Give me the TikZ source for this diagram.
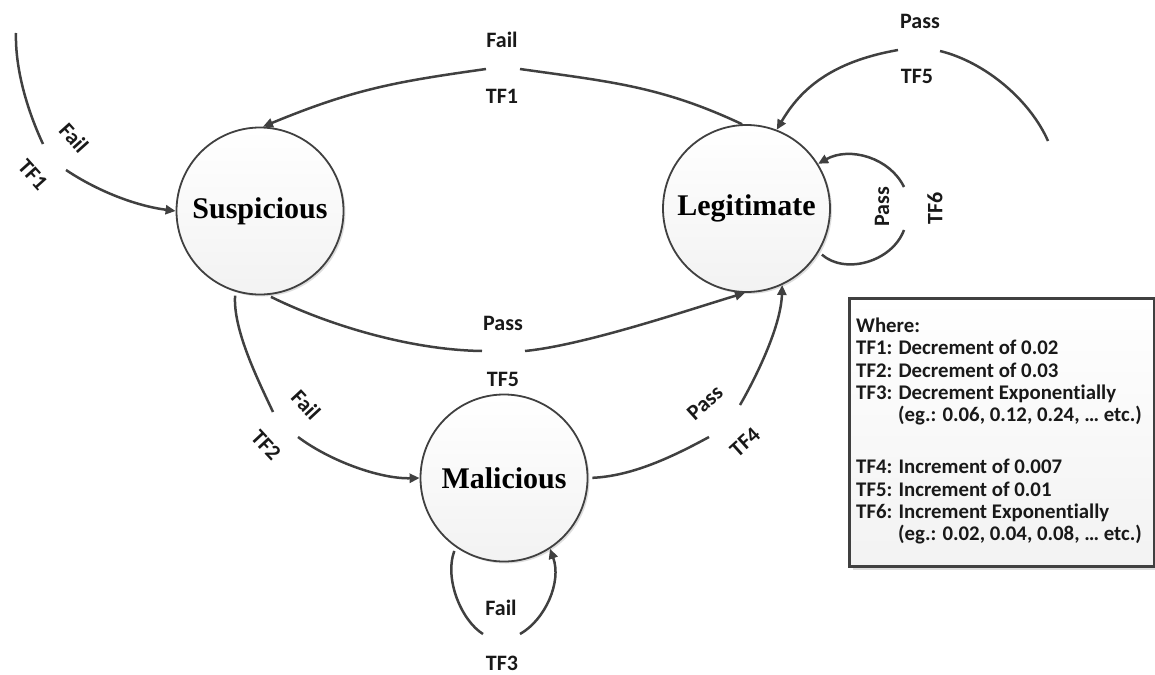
\documentclass[tikz,border=0pt]{standalone}
\usepackage{fontspec}
\setmainfont{Liberation Serif}
\newfontfamily\calib[Ligatures=NoCommon]{Carlito}
\usetikzlibrary{arrows.meta,shadows}
\definecolor{linecol}{HTML}{404040}
\begin{document}
\begin{tikzpicture}[x=1pt,y=-1pt,
  state/.style={circle, draw=linecol, line width=1.8pt, minimum size=167pt, inner sep=0pt,
    top color=white, bottom color=gray!10, text=black,
    font=\fontsize{30}{36}\selectfont\bfseries,
    drop shadow={shadow xshift=2pt, shadow yshift=-2pt, opacity=.22, fill=black!60}},
  conn/.style={draw=linecol, line width=2.5pt},
  arr/.style={conn, -{Triangle[length=10pt,width=9pt]}},
  src/.style={shorten <=4pt},
  lbl/.style={font=\calib\fontsize{22}{26}\selectfont\bfseries, text=black!90, inner sep=0pt},
  legbox/.style={rectangle, draw=linecol, line width=3pt, top color=white, bottom color=gray!10,
    minimum width=305pt, minimum height=268pt, inner sep=0pt,
    drop shadow={shadow xshift=3pt, shadow yshift=-3pt, opacity=.22, fill=black!60}},
  legtext/.style={font=\calib\fontsize{20.8}{22.4}\selectfont\bfseries, text=black!90, align=left, inner sep=0pt}
]
\useasboundingbox (0,0) rectangle (1155,674);

% states
\node[state] (S) at (260,211) {Suspicious};
\node[state] (L) at (746.5,208.5) {Legitimate};
\node[state] (M) at (504,478) {Malicious};

% gap coordinates
\coordinate (g1a) at (486,69);  \coordinate (g1b) at (520,69);
\coordinate (e2s) at (16,33);   \coordinate (g2a) at (43,144);  \coordinate (g2b) at (66,170);
\coordinate (g3a) at (482,351); \coordinate (g3b) at (525,351);
\coordinate (g4a) at (273,412); \coordinate (g4b) at (298,437);
\coordinate (g5a) at (709,437); \coordinate (g5b) at (740,405);
\coordinate (g6a) at (483,634); \coordinate (g6b) at (520,634);
\coordinate (e7s) at (1048,141);\coordinate (g7a) at (940,51);  \coordinate (g7b) at (898,50);
\coordinate (g8a) at (904,230); \coordinate (g8b) at (904,187);

% Legitimate -> Suspicious (Fail, TF1)
\draw[conn] (L.93) .. controls (661,86) and (609,81.6) .. (g1b);
\draw[arr] (g1a) .. controls (397,81.6) and (355,88.6) .. (S.88);
% incoming -> Suspicious (Fail, TF1)
\draw[conn] (e2s) .. controls (15,70) and (28,112) .. (g2a);
\draw[arr] (g2b) .. controls (99,192) and (137,206) .. (S.180);
% Suspicious -> Legitimate (Pass, TF5)
\draw[conn,src] (S.-85) .. controls (330,326) and (412,350) .. (g3a);
\draw[arr] (g3b) .. controls (585,345) and (688,310) .. (L.-91);
% Suspicious -> Malicious (Fail, TF2)
\draw[conn,src] (S.-107) .. controls (233,330) and (258,380) .. (g4a);
\draw[arr] (g4b) .. controls (330,461) and (380,479) .. (M.180);
% Malicious -> Legitimate (Pass, TF4)
\draw[conn,src] (M.0) .. controls (633,476) and (674,456) .. (g5a);
\draw[arr] (g5b) .. controls (755,379) and (781,327) .. (L.-65);
% Malicious loop (Fail, TF3)
\draw[conn,src] (M.-125) .. controls (444,580) and (462,621) .. (g6a);
\draw[arr] (g6b) .. controls (545,620) and (562,582) .. (M.-57);
% incoming -> Legitimate (Pass, TF5)
\draw[conn] (e7s) .. controls (1030,100) and (985,62) .. (g7a);
\draw[arr] (g7b) .. controls (830,62) and (800,90) .. (L.69);
% Legitimate loop (Pass, TF6)
\draw[conn,src] (L.-31) .. controls (845,275) and (892,262) .. (g8a);
\draw[arr] (g8b) .. controls (890,158) and (850,146) .. (L.32);

% labels
\node[lbl] (l1a) at (502,40) {Fail};
\node[lbl] (l1b) at (502,96) {TF1};
\node[lbl,rotate=-48] (l2a) at (74,138) {Fail};
\node[lbl,rotate=-48] (l2b) at (33,175) {TF1};
\node[lbl] (l3a) at (503,323) {Pass};
\node[lbl] (l3b) at (503,379) {TF5};
\node[lbl,rotate=-47] (l4a) at (306,405) {Fail};
\node[lbl,rotate=-47] (l4b) at (266,445) {TF2};
\node[lbl,rotate=42] (l5a) at (705,403) {Pass};
\node[lbl,rotate=42] (l5b) at (745,442) {TF4};
\node[lbl] (l6a) at (501,608) {Fail};
\node[lbl] (l6b) at (502,663) {TF3};
\node[lbl] (l7a) at (920,21) {Pass};
\node[lbl] (l7b) at (917,76) {TF5};
\node[lbl,rotate=90] (l8a) at (882,207) {Pass};
\node[lbl,rotate=90] (l8b) at (935,208) {TF6};

% legend
\node[legbox, anchor=north west] (leg) at (848,297) {};
\node[legtext, anchor=north west] (legt) at (856,317.5) {Where:\\
TF1: Decrement of 0.02\\
TF2: Decrement of 0.03\\
TF3: Decrement Exponentially\\
\hspace*{42pt}(eg.: 0.06, 0.12, 0.24, … etc.)\\[29.4pt]
TF4: Increment of 0.007\\
TF5: Increment of 0.01\\
TF6: Increment Exponentially\\
\hspace*{42pt}(eg.: 0.02, 0.04, 0.08, … etc.)};
\end{tikzpicture}
\end{document}
